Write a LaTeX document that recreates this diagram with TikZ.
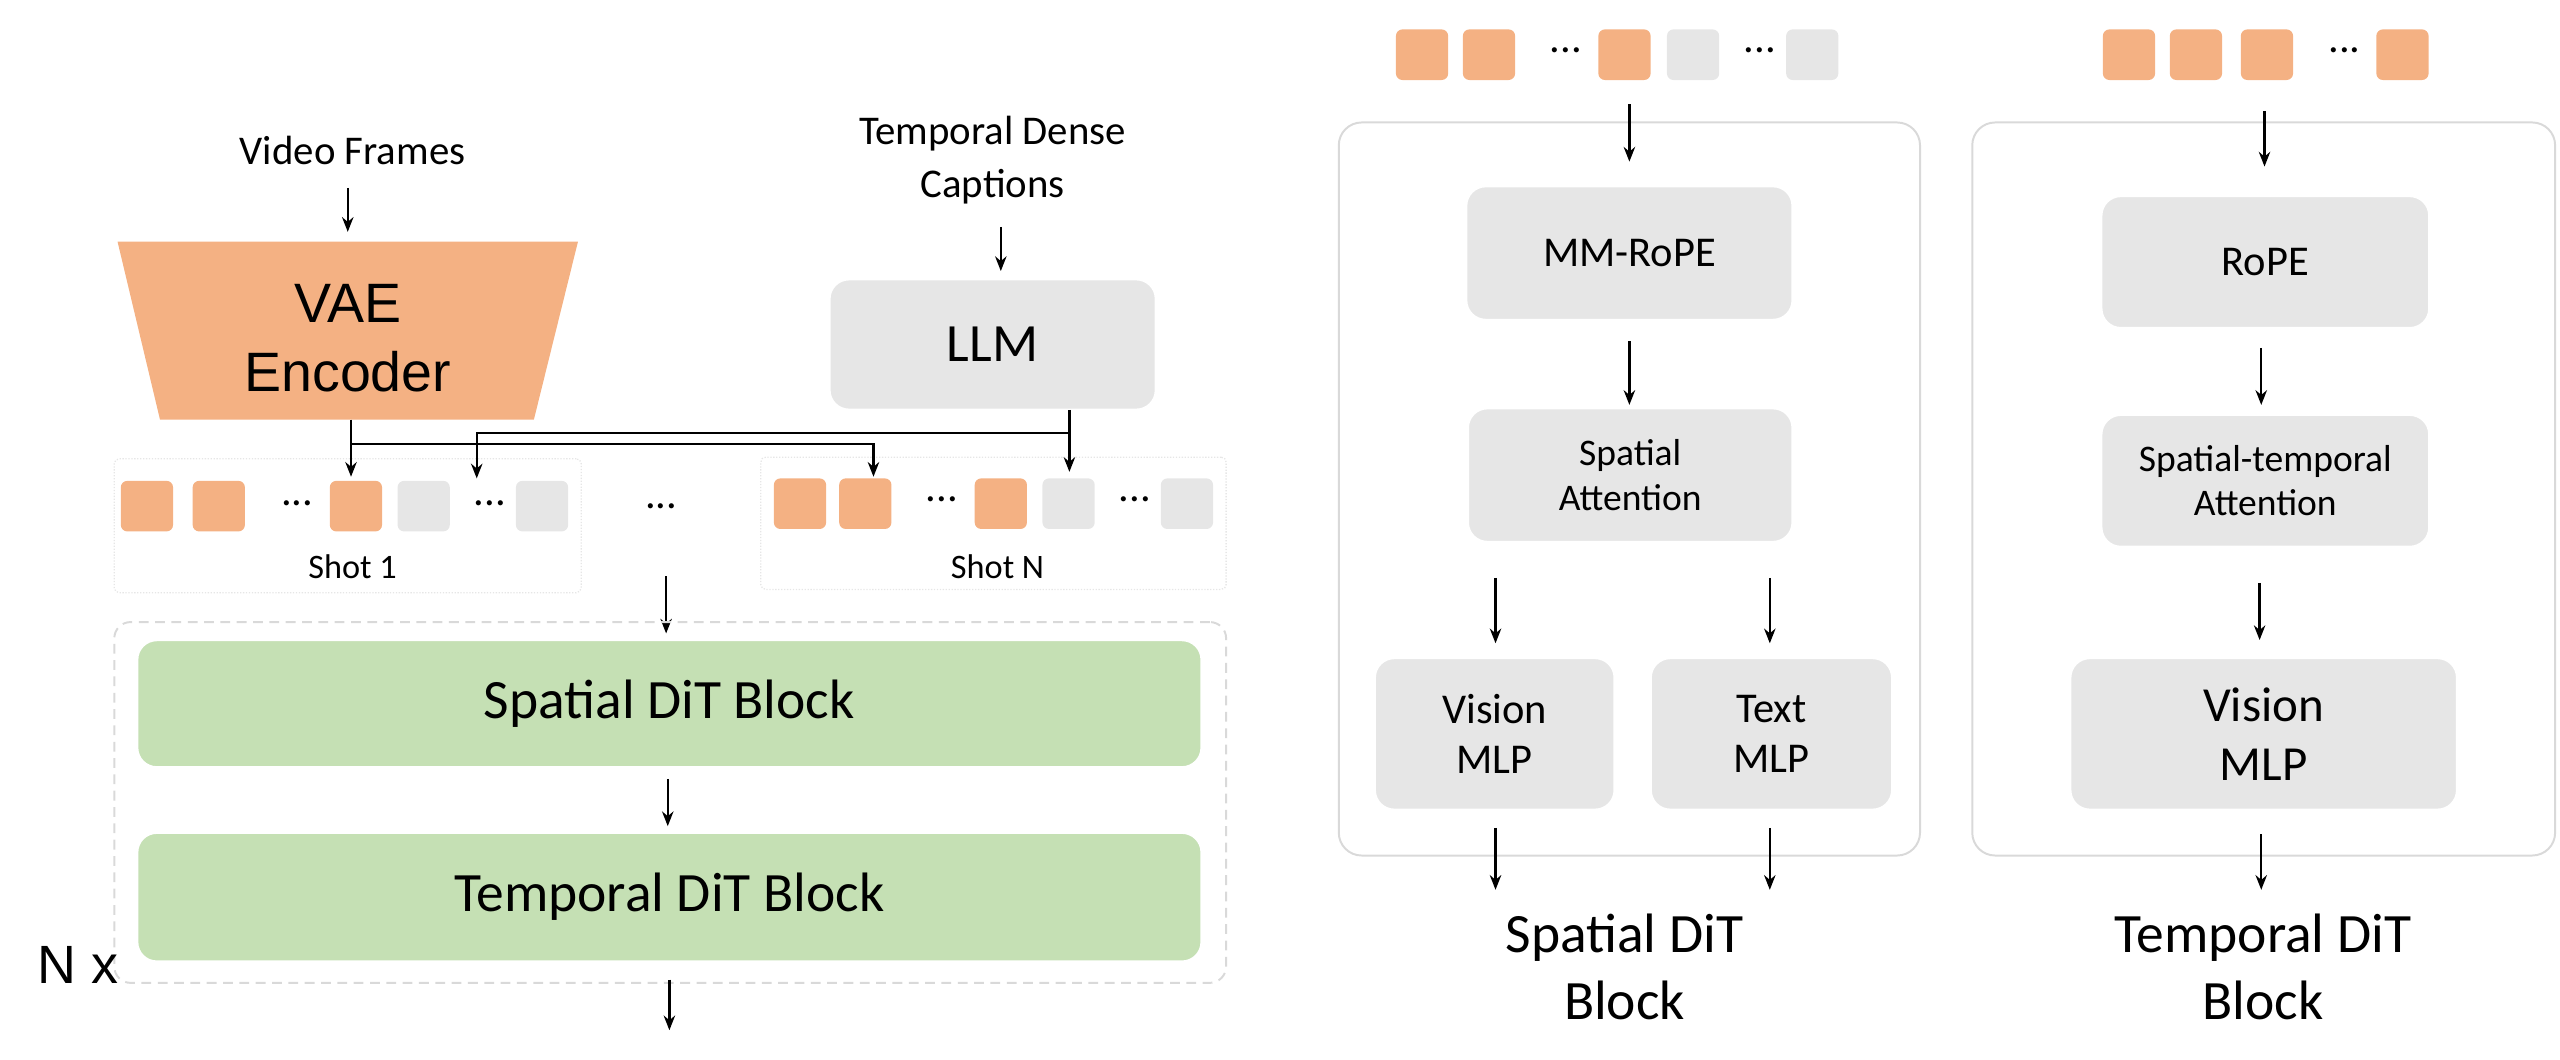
\documentclass[tikz,border=0pt]{standalone}
\usepackage{fontspec}
\setmainfont{Carlito}
\newfontfamily\arialf{Liberation Sans}
\usetikzlibrary{arrows.meta}
\definecolor{tokor}{HTML}{F4B183}
\definecolor{tokgr}{HTML}{E6E6E6}
\definecolor{blkgr}{HTML}{C5E0B4}
\definecolor{panel}{HTML}{D9D9D9}
\newcommand{\fs}[2]{\fontsize{#1}{#2}\selectfont}
\begin{document}
\begin{tikzpicture}[x=1pt,y=-1pt,
  arr/.style={-{Stealth[length=9pt,width=7pt]},line width=1.4pt},
  ln/.style={line width=1.4pt},
  tok/.style={draw=none,rounded corners=4pt,minimum width=32pt,minimum height=31pt,inner sep=0pt},
  tO/.style={tok,fill=tokor},
  tG/.style={tok,fill=tokgr},
  gbox/.style={fill=tokgr,draw=white,line width=1.5pt,rounded corners=12pt,inner sep=0pt,align=center},
  green/.style={fill=blkgr,draw=white,line width=1.5pt,rounded corners=12pt,inner sep=0pt},
  dots/.style={inner sep=0pt,font=\fs{26}{30}},
  txt/.style={inner sep=0pt,align=center}]
\useasboundingbox (0,0) rectangle (1568,649);

% ---------- left ----------
\node[txt,font=\fs{25}{30}] (vf) at (216,92) {Video Frames};
\coordinate (vfa) at (213,115); \coordinate (vfb) at (213,142);
\draw[arr] (vfa) -- (vfb);
\fill[tokor] (72,148) -- (354,148) -- (327,257) -- (98,257) -- cycle;
\node[txt,font=\arialf\fs{34}{42}] (vae) at (213,207) {VAE\\Encoder};

\node[txt,font=\fs{25}{32}] (tdc) at (608,98) {Temporal Dense\\Captions};
\coordinate (tda) at (613,139); \coordinate (tdb) at (613,166);
\draw[arr] (tda) -- (tdb);
\node[gbox,minimum width=200pt,minimum height=80pt,font=\fs{33}{38}] (llm) at (608,211) {LLM};

% shot boxes
\node[draw=tokgr,densely dotted,line width=0.8pt,rounded corners=3pt,minimum width=286pt,minimum height=82pt,inner sep=0pt] (s1) at (213,322) {};
\node[draw=tokgr,densely dotted,line width=0.8pt,rounded corners=3pt,minimum width=285pt,minimum height=81pt,inner sep=0pt] (sN) at (608.5,320.5) {};
\node[tO] (a1) at (90,310) {};
\node[tO] (a2) at (134,310) {};
\node[dots] (ad1) at (182,308) {...};
\node[tO] (a3) at (218,310) {};
\node[tG] (a4) at (259.5,310) {};
\node[dots] (ad2) at (300,308) {...};
\node[tG] (a5) at (332,310) {};
\node[txt,font=\fs{21}{24}] (s1t) at (216,347) {Shot 1};
\node[dots] (mid) at (405,310) {...};
\node[tO] (b1) at (490,308.5) {};
\node[tO] (b2) at (530,308.5) {};
\node[dots] (bd1) at (577,306) {...};
\node[tO] (b3) at (613,308.5) {};
\node[tG] (b4) at (654.5,308.5) {};
\node[dots] (bd2) at (695,306) {...};
\node[tG] (b5) at (727,308.5) {};
\node[txt,font=\fs{21}{24}] (sNt) at (611,347) {Shot N};

% connectors
\coordinate (c1) at (215,257); \coordinate (c1j) at (215,272); \coordinate (c1e) at (215,292);
\coordinate (c2j) at (535,272); \coordinate (c2e) at (535,292);
\coordinate (c3) at (655,251); \coordinate (c3j) at (655,265); \coordinate (c3e) at (655,289);
\coordinate (c4j) at (292,265); \coordinate (c4e) at (292,293);
\draw[arr] (c1) -- (c1e);
\draw[arr] (c1j) -- (c2j) -- (c2e);
\draw[arr] (c3) -- (c3e);
\draw[arr] (c3j) -- (c4j) -- (c4e);

\coordinate (m1) at (408,353); \coordinate (m2) at (408,388);
\draw[arr] (m1) -- (m2);
\node[draw=panel,dashed,dash pattern=on 6pt off 4pt,line width=1.2pt,rounded corners=10pt,minimum width=681pt,minimum height=221pt,inner sep=0pt] (nx) at (410.5,491.5) {};
\node[green,minimum width=652pt,minimum height=78pt,font=\fs{34}{40}] (sp) at (410,431) {Spatial DiT Block};
\coordinate (m3) at (409,477); \coordinate (m4) at (409,506);
\draw[arr] (m3) -- (m4);
\node[green,minimum width=652pt,minimum height=79pt,font=\fs{34}{40}] (tp) at (410,549.5) {Temporal DiT Block};
\node[txt,font=\arialf\fs{33}{38}] (nxt) at (48,591) {N x};
\coordinate (m5) at (410,600); \coordinate (m6) at (410,631);
\draw[arr] (m5) -- (m6);

% ---------- right panel 1 ----------
\node[tO] (r1) at (871,33.5) {};
\node[tO] (r2) at (912,33.5) {};
\node[dots] (rd1) at (959,31) {...};
\node[tO] (r3) at (995,33.5) {};
\node[tG] (r4) at (1037,33.5) {};
\node[dots] (rd2) at (1078,31) {...};
\node[tG] (r5) at (1110,33.5) {};
\node[draw=panel,line width=1.2pt,rounded corners=14pt,minimum width=356pt,minimum height=449pt,inner sep=0pt] (p1) at (998,299.5) {};
\coordinate (p1a) at (998,64); \coordinate (p1b) at (998,99);
\draw[arr] (p1a) -- (p1b);
\node[gbox,minimum width=200pt,minimum height=82pt,font=\fs{26}{30}] (mm) at (998,155) {MM-RoPE};
\coordinate (p1c) at (998,209); \coordinate (p1d) at (998,248);
\draw[arr] (p1c) -- (p1d);
\node[gbox,minimum width=199pt,minimum height=82pt,font=\fs{23}{28}] (sa) at (998.5,291) {Spatial\\Attention};
\coordinate (p1e) at (916,354); \coordinate (p1f) at (916,394);
\coordinate (p1g) at (1084,354); \coordinate (p1h) at (1084,394);
\draw[arr] (p1e) -- (p1f);
\draw[arr] (p1g) -- (p1h);
\node[gbox,minimum width=147pt,minimum height=93pt,font=\fs{26}{31}] (vm) at (915.5,449.5) {Vision\\MLP};
\node[gbox,minimum width=148pt,minimum height=93pt,font=\fs{26}{31}] (tm) at (1085,449.5) {Text\\MLP};
\coordinate (p1i) at (916,507); \coordinate (p1j) at (916,545);
\coordinate (p1k) at (1084,507); \coordinate (p1l) at (1084,545);
\draw[arr] (p1i) -- (p1j);
\draw[arr] (p1k) -- (p1l);
\node[txt,font=\fs{34}{41}] (st1) at (995,592) {Spatial DiT\\Block};

% ---------- right panel 2 ----------
\node[tO] (q1) at (1304,33.5) {};
\node[tO] (q2) at (1345,33.5) {};
\node[tO] (q3) at (1388.5,33.5) {};
\node[dots] (qd) at (1436,31) {...};
\node[tO] (q4) at (1471.5,33.5) {};
\node[draw=panel,line width=1.2pt,rounded corners=14pt,minimum width=357pt,minimum height=449pt,inner sep=0pt] (p2) at (1386.5,299.5) {};
\coordinate (p2a) at (1387,68); \coordinate (p2b) at (1387,102);
\draw[arr] (p2a) -- (p2b);
\node[gbox,minimum width=201pt,minimum height=81pt,font=\fs{26}{30}] (rp) at (1387.5,160.5) {RoPE};
\coordinate (p2c) at (1385,213); \coordinate (p2d) at (1385,248);
\draw[arr] (p2c) -- (p2d);
\node[gbox,minimum width=201pt,minimum height=81pt,font=\fs{23}{27}] (sta) at (1387.5,294.5) {Spatial-temporal\\Attention};
\coordinate (p2e) at (1384,357); \coordinate (p2f) at (1384,392);
\draw[arr] (p2e) -- (p2f);
\node[gbox,minimum width=237pt,minimum height=93pt,font=\fs{30}{36}] (vm2) at (1386.5,449.5) {Vision\\MLP};
\coordinate (p2g) at (1385,511); \coordinate (p2h) at (1385,545);
\draw[arr] (p2g) -- (p2h);
\node[txt,font=\fs{34}{41}] (st2) at (1386,592) {Temporal DiT\\Block};
\end{tikzpicture}
\end{document}
